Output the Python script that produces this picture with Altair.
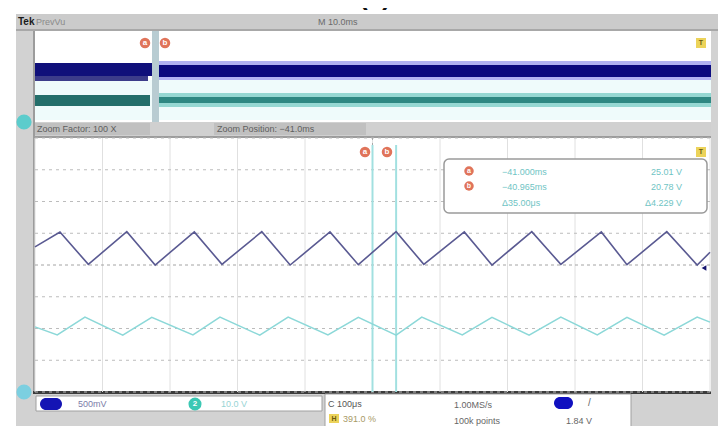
import altair as alt
import pandas as pd

# ---------------- values ----------------
# Channel 1 (blue) triangle wave: vertex times (ms) and levels (screen divisions)
ch1_time = [-41.500, -41.463, -41.421, -41.364, -41.322, -41.264, -41.223,
            -41.164, -41.122, -41.063, -41.021, -40.965, -40.924, -40.864,
            -40.823, -40.764, -40.721, -40.661, -40.623, -40.564, -40.519, -40.500]
ch1_div = [0.57, 1.04, 0.02, 1.05, 0.00, 1.04, 0.02, 1.05, 0.00, 1.04, 0.01,
           1.05, 0.02, 1.04, 0.00, 1.05, 0.02, 1.04, 0.01, 1.05, 0.00, 0.40]
# Channel 2 (cyan) triangle wave
ch2_time = [-41.500, -41.467, -41.426, -41.370, -41.327, -41.266, -41.226,
            -41.167, -41.125, -41.066, -41.021, -40.965, -40.927, -40.867,
            -40.823, -40.768, -40.721, -40.667, -40.623, -40.568, -40.519, -40.500]
ch2_div = [-1.95, -2.20, -1.64, -2.21, -1.65, -2.20, -1.64, -2.21, -1.64, -2.20, -1.65,
           -2.21, -1.64, -2.20, -1.65, -2.21, -1.64, -2.20, -1.65, -2.21, -1.64, -1.80]

# graticule (zoomed window: -41.5 .. -40.5 ms, 100 us/div, 8 vertical divisions)
grid_time = [-41.5, -41.4, -41.3, -41.2, -41.1, -41.0, -40.9, -40.8, -40.7, -40.6, -40.5]
grid_div = [-4, -3, -2, -1, 1, 2, 3, 4]
center_time = -41.0
cursor_time = [-41.000, -40.965]

# readouts / labels
readout_time = ["\u221241.000ms", "\u221240.965ms", "\u039435.00\u03bcs"]
readout_volt = ["25.01 V", "20.78 V", "\u03944.229 V"]

# ---------------- page geometry ----------------
W, H, M = 728, 434, 8
SCR_L, SCR_R, SCR_T, SCR_B = 35, 710, 138, 392
T0, T1 = grid_time[0], grid_time[-1]
px_per_ms = (SCR_R - SCR_L) / (T1 - T0)
t_lo = T0 + (M - SCR_L) / px_per_ms
t_hi = T0 + (W - M - SCR_L) / px_per_ms
py_per_div = (SCR_B - SCR_T) / 8.0
cy = (SCR_T + SCR_B) / 2.0
v_hi = (cy - M) / py_per_div
v_lo = (cy - (H - M)) / py_per_div


def tx(field="t"):
    return alt.X(f"{field}:Q", scale=alt.Scale(domain=[t_lo, t_hi], nice=False, zero=False), axis=None)


def vy(field="v"):
    return alt.Y(f"{field}:Q", scale=alt.Scale(domain=[v_lo, v_hi], nice=False, zero=False), axis=None)


def px(field="x"):
    return alt.X(f"{field}:Q", scale=alt.Scale(domain=[M, W - M], nice=False, zero=False), axis=None)


def py(field="y"):
    return alt.Y(f"{field}:Q", scale=alt.Scale(domain=[M, H - M], reverse=True, nice=False, zero=False), axis=None)


# ---------------- frame layout (screen furniture) ----------------
frame = pd.DataFrame([
    (16, 718, 14, 430, "#d2d2d2"),
    (16, 718, 14, 30, "#cbcbcb"),
    (16, 718, 29, 31, "#a8a8a8"),
    (35, 711, 31, 122, "#ffffff"),
    (33, 35, 31, 136, "#9c9c9c"),
    (35, 711, 80, 120, "#effbfb"),
    (158, 711, 61, 80, "#b0b2f2"),
    (158, 711, 65, 77, "#0a0a7e"),
    (158, 711, 93, 107, "#95d8d2"),
    (158, 711, 97, 103, "#2e8882"),
    (35, 152, 63, 76, "#10107a"),
    (35, 148, 76, 81, "#3c3c8a"),
    (35, 150, 95, 106, "#236e6a"),
    (152, 159, 31, 122, "#b8ccd2"),
    (35, 711, 122, 137, "#d0d0d0"),
    (35, 150, 123, 135, "#c0c0c0"),
    (214, 366, 123, 135, "#c0c0c0"),
    (35, 711, 137, 392, "#ffffff"),
    (35, 711, 136, 138, "#9c9c9c"),
    (33, 35, 136, 394, "#9c9c9c"),
    (33, 711, 391, 394, "#3c3c3c"),
    (696, 706, 38, 48, "#ecd35a"),
    (696, 706, 147, 157, "#ecd35a"),
], columns=["x", "x2", "y", "y2", "fill"])

boxes = pd.DataFrame([
    (36, 322, 396, 411),
    (325, 631, 394, 427),
], columns=["x", "x2", "y", "y2"])

yellow = pd.DataFrame([(329, 339, 414, 423)], columns=["x", "x2", "y", "y2"])

readbox = pd.DataFrame([(444, 707, 159, 213)], columns=["x", "x2", "y", "y2"])

ellipses = pd.DataFrame([
    (40, 62, 398, 410, "#1414b4"),
    (554, 573, 397, 409, "#1010c0"),
], columns=["x", "x2", "y", "y2", "fill"])

dots = pd.DataFrame([
    (145, 43, 110, "#e0745a"), (165, 43, 110, "#e0745a"),
    (365, 152, 110, "#e0745a"), (387, 152, 110, "#e0745a"),
    (469, 171, 90, "#e0745a"), (469, 186, 90, "#e0745a"),
    (24, 122, 230, "#5ccccc"), (24, 392, 230, "#7ccfe0"),
    (195, 404, 170, "#3cc8b4"),
], columns=["x", "y", "s", "fill"])

labels_left = pd.DataFrame([
    ("PrevVu", 36, 22, 9, "#8a8a8a"),
    ("M 10.0ms", 318, 22, 9, "#6a6a6a"),
    ("Zoom Factor: 100 X", 37, 129, 9, "#5e5e5e"),
    ("Zoom Position: \u221241.0ms", 217, 129, 9, "#5e5e5e"),
    (readout_time[0], 502, 172, 9, "#6fc4c4"),
    (readout_time[1], 502, 187, 9, "#6fc4c4"),
    (readout_time[2], 502, 203, 9, "#6fc4c4"),
    ("500mV", 78, 404, 9, "#7c7ca8"),
    ("10.0 V", 221, 404, 9, "#98d4d4"),
    ("C 100\u03bcs", 328, 404, 9, "#555555"),
    ("1.00MS/s", 454, 405, 9, "#666666"),
    ("391.0 %", 343, 419, 9, "#a89a66"),
    ("100k points", 454, 421, 9, "#666666"),
    ("/", 588, 403, 10, "#666666"),
    ("1.84 V", 566, 421, 9, "#666666"),
], columns=["label", "x", "y", "fs", "col"])

labels_right = pd.DataFrame([
    (readout_volt[0], 682, 172, 9, "#6fc4c4"),
    (readout_volt[1], 682, 187, 9, "#6fc4c4"),
    (readout_volt[2], 682, 203, 9, "#6fc4c4"),
], columns=["label", "x", "y", "fs", "col"])

labels_center = pd.DataFrame([
    ("a", 145, 43, 8, "#ffffff"), ("b", 165, 43, 8, "#ffffff"),
    ("a", 365, 152, 8, "#ffffff"), ("b", 387, 152, 8, "#ffffff"),
    ("a", 469, 171, 7, "#ffffff"), ("b", 469, 186, 7, "#ffffff"),
    ("2", 195, 404, 8, "#ffffff"),
    ("T", 701, 43, 7, "#6a5a10"), ("T", 701, 152, 7, "#6a5a10"),
    ("H", 334, 419, 7, "#6a5a10"),
], columns=["label", "x", "y", "fs", "col"])

bold_labels = pd.DataFrame([
    ("Tek", 18, 22, 10, "#1a1a1a"),
], columns=["label", "x", "y", "fs", "col"])

title = pd.DataFrame([("(c)", 375, 10, 26, "#111111")], columns=["label", "x", "y", "fs", "col"])

# ---------------- graticule / traces in scope units ----------------
vgrid = pd.DataFrame({"t": grid_time, "v": [4.0] * len(grid_time), "v2": [-4.0] * len(grid_time)})
hgrid = pd.DataFrame({"v": grid_div, "t": [T0] * len(grid_div), "t2": [T1] * len(grid_div)})
ccross_v = pd.DataFrame({"t": [center_time], "v": [4.0], "v2": [-4.0]})
ccross_h = pd.DataFrame({"v": [0.0], "t": [T0], "t2": [T1]})
cursors = pd.DataFrame({"t": cursor_time, "v": [3.78, 3.78], "v2": [-4.0, -4.0]})
ch1 = pd.DataFrame({"t": ch1_time, "v": ch1_div})
ch2 = pd.DataFrame({"t": ch2_time, "v": ch2_div})
marker = pd.DataFrame({"x": [704], "y": [268]})

FONT = "Liberation Sans"

layers = [
    alt.Chart(frame).mark_rect().encode(x=px(), x2="x2:Q", y=py(), y2="y2:Q",
                                        color=alt.Color("fill:N", scale=None)),
    alt.Chart(boxes).mark_rect(fill="#ffffff", stroke="#a0a0a0", strokeWidth=1).encode(
        x=px(), x2="x2:Q", y=py(), y2="y2:Q"),
    alt.Chart(yellow).mark_rect(fill="#ecd35a").encode(x=px(), x2="x2:Q", y=py(), y2="y2:Q"),
    alt.Chart(vgrid).mark_rule(color="#e0e0e0", strokeWidth=1).encode(x=tx(), y=vy(), y2="v2:Q"),
    alt.Chart(hgrid).mark_rule(color="#bcbcbc", strokeWidth=1, strokeDash=[3, 4]).encode(
        y=vy(), x=tx(), x2="t2:Q"),
    alt.Chart(ccross_v).mark_rule(color="#a8a8a8", strokeWidth=1, strokeDash=[2, 3]).encode(
        x=tx(), y=vy(), y2="v2:Q"),
    alt.Chart(ccross_h).mark_rule(color="#a4a4a4", strokeWidth=1, strokeDash=[3, 3]).encode(
        y=vy(), x=tx(), x2="t2:Q"),
    alt.Chart(cursors).mark_rule(color="#a2e0e0", strokeWidth=2).encode(x=tx(), y=vy(), y2="v2:Q"),
    alt.Chart(ch2).mark_line(color="#8cd8d8", strokeWidth=1.5).encode(x=tx(), y=vy()),
    alt.Chart(ch1).mark_line(color="#5a5a92", strokeWidth=1.6).encode(x=tx(), y=vy()),
    alt.Chart(readbox).mark_rect(fill="#ffffff", stroke="#9a9a9a", strokeWidth=1.5,
                                 cornerRadius=5).encode(x=px(), x2="x2:Q", y=py(), y2="y2:Q"),
    alt.Chart(ellipses).mark_rect(cornerRadius=6).encode(
        x=px(), x2="x2:Q", y=py(), y2="y2:Q", color=alt.Color("fill:N", scale=None)),
    alt.Chart(dots).mark_circle(opacity=1).encode(
        x=px(), y=py(), size=alt.Size("s:Q", scale=None), color=alt.Color("fill:N", scale=None)),
    alt.Chart(marker).mark_point(shape="triangle-left", filled=True, color="#14146e", size=30,
                                 opacity=1).encode(x=px(), y=py()),
]

for df, align, weight in [(labels_left, "left", "normal"), (labels_right, "right", "normal"),
                          (labels_center, "center", "bold"), (bold_labels, "left", "bold")]:
    layers.append(
        alt.Chart(df).mark_text(align=align, baseline="middle", font=FONT, fontWeight=weight).encode(
            x=px(), y=py(), text="label:N",
            color=alt.Color("col:N", scale=None), size=alt.Size("fs:Q", scale=None)))

layers.append(
    alt.Chart(title).mark_text(align="center", baseline="bottom", font=FONT, fontWeight="bold").encode(
        x=px(), y=py(), text="label:N",
        color=alt.Color("col:N", scale=None), size=alt.Size("fs:Q", scale=None)))

chart = alt.layer(*layers).resolve_scale(
    x="independent", y="independent", color="independent", size="independent"
).properties(
    width=W - 2 * M, height=H - 2 * M, padding=0, autosize="none", background="#ffffff"
).configure_view(strokeWidth=0)

chart.save("out.html", embed_options={"renderer": "svg", "actions": False})
